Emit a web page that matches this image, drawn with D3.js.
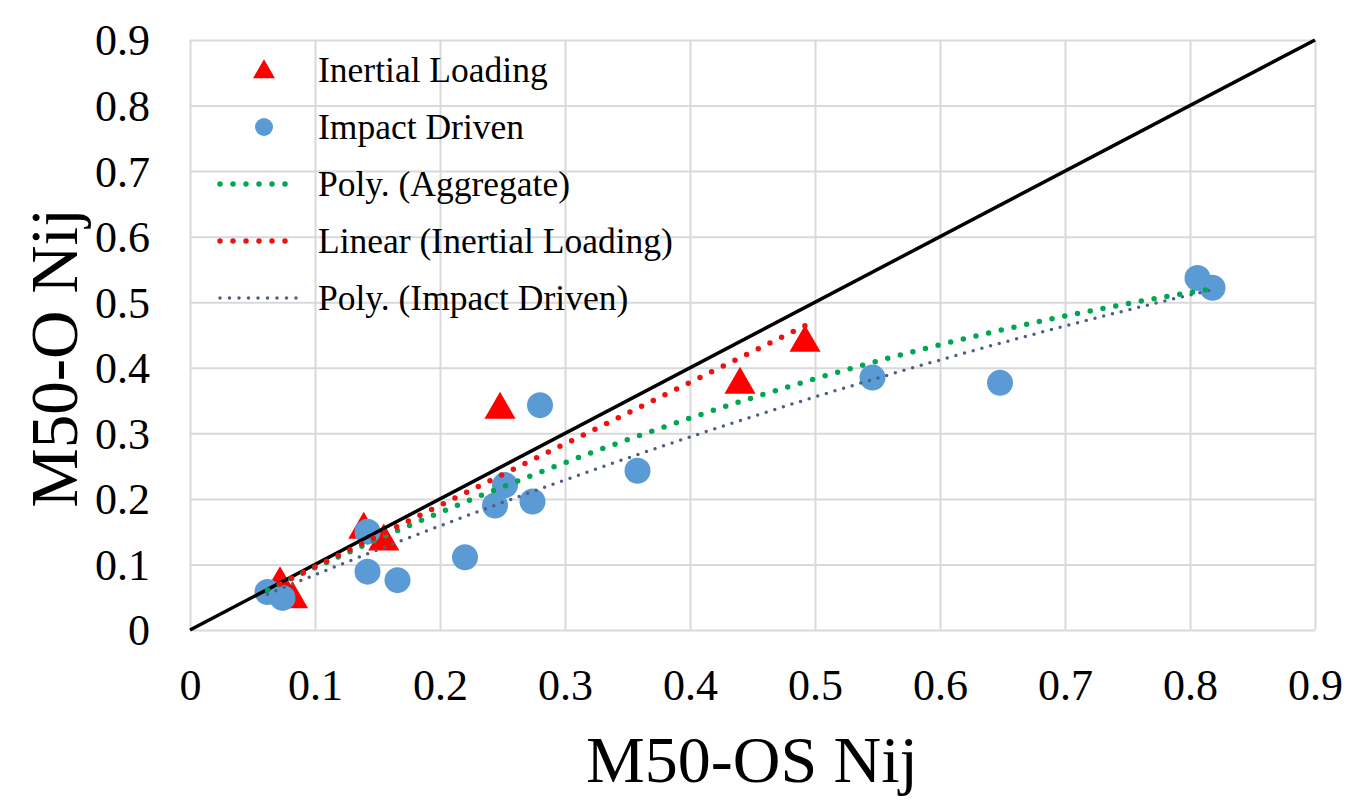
<!DOCTYPE html>
<html>
<head>
  <meta charset='utf-8'>
  <script src="https://cdn.jsdelivr.net/npm/d3@7"></script>
  <style>
    body { margin: 0; background: #ffffff; }
    text { font-family: "Liberation Serif", "Times New Roman", serif; fill: #000; }
  </style>
</head>
<body>
  <div id="container"></div>

  <script type="text/javascript">

    // values
    var tickValues = [0, 0.1, 0.2, 0.3, 0.4, 0.5, 0.6, 0.7, 0.8, 0.9];
    var tickLabels = ["0", "0.1", "0.2", "0.3", "0.4", "0.5", "0.6", "0.7", "0.8", "0.9"];

    var inertialX = [0.072, 0.082, 0.139, 0.155, 0.248, 0.440, 0.492];
    var inertialY = [0.070, 0.047, 0.153, 0.135, 0.336, 0.374, 0.438];

    var impactX = [0.062, 0.074, 0.142, 0.142, 0.166, 0.220, 0.244, 0.252, 0.274, 0.280, 0.358, 0.546, 0.648, 0.806, 0.818];
    var impactY = [0.058, 0.049, 0.150, 0.089, 0.076, 0.111, 0.190, 0.221, 0.196, 0.343, 0.243, 0.385, 0.377, 0.537, 0.522];

    // trendline coefficients (highest power first), as they appear in the picture
    var linInertialCoef = [0.938, 0.0025];
    var polyAggregateCoef = [-0.403, 0.962, 0.003];
    var polyImpactCoef = [-0.228, 0.815, 0.005];

    var legendLabels = ["Inertial Loading", "Impact Driven", "Poly. (Aggregate)",
                        "Linear (Inertial Loading)", "Poly. (Impact Driven)"];

    var svg = d3.select("#container").append("svg")
                .attr("width", 1350)
                .attr("height", 805);

    var x = d3.scaleLinear().domain([0, 0.9]).range([190, 1315]);
    var y = d3.scaleLinear().domain([0, 0.9]).range([630, 40]);

    // GRID + AXES

    var xAxis = svg.append("g")
        .attr("transform", "translate(0,630)")
        .call(d3.axisBottom(x).tickValues(tickValues)
                .tickSize(-590)
                .tickFormat(function(d, i) { return tickLabels[i]; }));
    xAxis.select(".domain").remove();
    xAxis.selectAll("line").attr("stroke", "#d9d9d9").attr("stroke-width", 2);
    xAxis.selectAll("text").attr("y", 70).attr("dy", 0)
         .attr("font-size", 44).attr("fill", "#000");

    var yAxis = svg.append("g")
        .attr("transform", "translate(190,0)")
        .call(d3.axisLeft(y).tickValues(tickValues)
                .tickSize(-1125)
                .tickFormat(function(d, i) { return tickLabels[i]; }));
    yAxis.select(".domain").remove();
    yAxis.selectAll("line").attr("stroke", "#d9d9d9").attr("stroke-width", 2);
    yAxis.selectAll("text").attr("x", -40).attr("dy", "0.34em")
         .attr("font-size", 44).attr("fill", "#000");

    svg.append("text")
       .attr("x", 752)
       .attr("y", 782)
       .attr("text-anchor", "middle")
       .attr("font-size", 66)
       .text("M50-OS Nij");

    svg.append("text")
       .attr("transform", "translate(77,358) rotate(-90)")
       .attr("text-anchor", "middle")
       .attr("font-size", 67)
       .text("M50-O Nij");

    // MARKERS

    var triangle = d3.symbol().type(d3.symbolTriangle).size(420);

    svg.append("g").selectAll("path")
       .data(inertialX)
       .enter().append("path")
       .attr("d", triangle)
       .attr("transform", function(d, i) { return "translate(" + x(d) + "," + y(inertialY[i]) + ")"; })
       .attr("fill", "#ff0000");

    svg.append("g").selectAll("circle")
       .data(impactX)
       .enter().append("circle")
       .attr("cx", function(d) { return x(d); })
       .attr("cy", function(d, i) { return y(impactY[i]); })
       .attr("r", 13)
       .attr("fill", "#5b9bd5");

    // y = x reference line
    svg.append("line")
       .attr("x1", x(0)).attr("y1", y(0))
       .attr("x2", x(0.9)).attr("y2", y(0.9))
       .attr("stroke", "#000")
       .attr("stroke-width", 3.5);

    // TRENDLINES

    function polyval(coef, v) {
        return coef.reduce(function(acc, c) { return acc * v + c; }, 0);
    }

    var line = d3.line()
        .x(function(d) { return x(d[0]); })
        .y(function(d) { return y(d[1]); });

    function trend(coef, xs, color, width, gap) {
        var x0 = d3.min(xs), x1 = d3.max(xs);
        var pts = d3.range(0, 41).map(function(k) {
            var v = x0 + (x1 - x0) * k / 40;
            return [v, polyval(coef, v)];
        });
        svg.append("path")
           .attr("d", line(pts))
           .attr("fill", "none")
           .attr("stroke", color)
           .attr("stroke-width", width)
           .attr("stroke-linecap", "round")
           .attr("stroke-dasharray", "0 " + gap);
    }

    var allX = inertialX.concat(impactX);
    trend(polyImpactCoef, impactX, "#4d5f85", 3.5, 9);
    trend(polyAggregateCoef, allX, "#00a651", 5.5, 13);
    trend(linInertialCoef, inertialX, "#ee1111", 5.5, 13);

    // LEGEND

    var legend = svg.append("g");
    var rowY = [70, 127, 184, 241, 298];

    legend.append("path")
          .attr("d", d3.symbol().type(d3.symbolTriangle).size(210))
          .attr("transform", "translate(264," + (rowY[0] + 2) + ")")
          .attr("fill", "#ff0000");

    legend.append("circle")
          .attr("cx", 264).attr("cy", rowY[1])
          .attr("r", 9)
          .attr("fill", "#5b9bd5");

    var legendLines = [
        {row: 2, color: "#00a651", width: 5.5, gap: 13},
        {row: 3, color: "#ee1111", width: 5.5, gap: 13},
        {row: 4, color: "#4d5f85", width: 3.5, gap: 9.5}
    ];
    legendLines.forEach(function(l) {
        legend.append("line")
              .attr("x1", 220).attr("x2", 298)
              .attr("y1", rowY[l.row]).attr("y2", rowY[l.row])
              .attr("stroke", l.color)
              .attr("stroke-width", l.width)
              .attr("stroke-linecap", "round")
              .attr("stroke-dasharray", "0 " + l.gap);
    });

    legend.selectAll("text")
          .data(legendLabels)
          .enter().append("text")
          .attr("x", 318)
          .attr("y", function(d, i) { return rowY[i] + 12; })
          .attr("font-size", 35.5)
          .text(function(d) { return d; });

  </script>
</body>
</html>
